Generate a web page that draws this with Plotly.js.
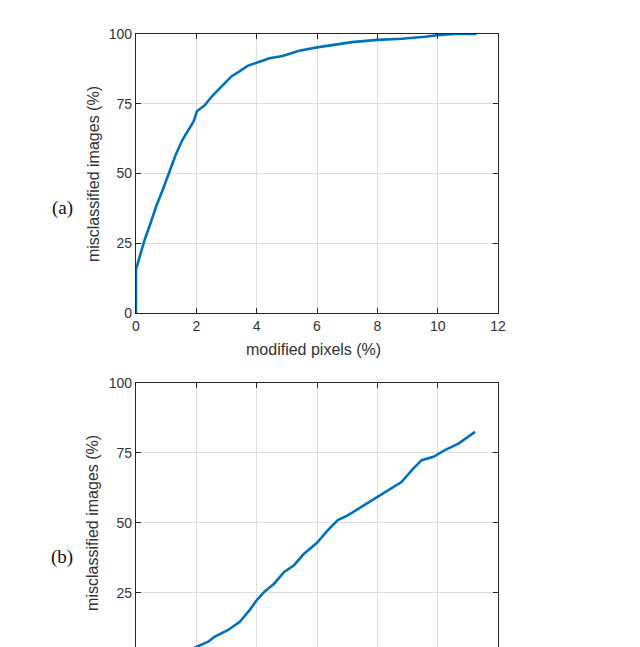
<!DOCTYPE html>
<html>
<head>
<meta charset="utf-8">
<script src="https://cdn.plot.ly/plotly-3.0.1.min.js"></script>
<style>
html,body{margin:0;padding:0;background:#fff;overflow:hidden;width:640px;height:647px;}
#chart{width:640px;height:720px;}
</style>
</head>
<body>
<div id="chart"></div>
<script>
// Panel (a): modified pixels (%) vs misclassified images (%)
const pixelsA = [0, 0, 0.13, 0.29, 0.45, 0.67, 0.89, 1.10, 1.32, 1.54, 1.81, 1.91, 2.02, 2.29, 2.51, 2.83, 3.16, 3.43, 3.70, 4.00, 4.42, 4.86, 5.41, 6.00, 6.50, 7.16, 8.00, 8.81, 9.58, 10.00, 10.57, 11.29];
const misclassA = [0, 15.7, 20.5, 26.4, 31.2, 38.3, 44.3, 50.2, 56.8, 62.1, 66.9, 68.7, 72.3, 74.6, 77.6, 81.2, 84.8, 86.6, 88.6, 89.7, 91.3, 92.1, 94.0, 95.2, 96.1, 97.1, 97.9, 98.3, 99.0, 99.6, 100, 100];

// Panel (b)
const pixelsB = [0.6, 1.0, 1.5, 2.0, 2.38, 2.60, 3.04, 3.43, 3.76, 4.00, 4.25, 4.58, 4.91, 5.24, 5.57, 6.00, 6.36, 6.69, 7.02, 7.47, 8.00, 8.36, 8.80, 9.19, 9.47, 9.86, 10.24, 10.69, 11.24];
const misclassB = [0, 1.5, 3.5, 5.7, 7.5, 9.3, 11.7, 14.6, 18.8, 22.4, 25.4, 28.3, 32.5, 34.9, 39.0, 42.9, 47.4, 51.0, 52.7, 55.7, 59.3, 61.7, 64.6, 69.4, 72.4, 73.6, 76.0, 78.3, 82.5];

const xTicks = [0, 2, 4, 6, 8, 10, 12];
const yTicks = [0, 25, 50, 75, 100];
const yTicksB = [25, 50, 75, 100];   // lower panel is cut off by the page edge
const xTitle = "modified pixels (%)";
const yTitle = "misclassified images (%)";
const panelLabels = ["(a)", "(b)"];

const lineStyle = {color: "#0072BD", width: 2.6};
const traces = [
  {x: pixelsA, y: misclassA, type: "scatter", mode: "lines", line: lineStyle, xaxis: "x", yaxis: "y", showlegend: false, hoverinfo: "none"},
  {x: pixelsB, y: misclassB, type: "scatter", mode: "lines", line: lineStyle, xaxis: "x2", yaxis: "y2", showlegend: false, hoverinfo: "none"}
];

const tickFont = {family: "Liberation Sans, Arial, sans-serif", size: 14, color: "#333"};
const axisBase = {
  showline: true, linecolor: "#262626", linewidth: 1.2, mirror: "ticks",
  ticks: "inside", ticklen: 5, tickcolor: "#262626", tickwidth: 1,
  showgrid: true, gridcolor: "#dedede", gridwidth: 1, zeroline: false,
  tickfont: tickFont, fixedrange: true
};
const xAx = Object.assign({}, axisBase, {range: [0, 12], tickvals: xTicks, ticktext: xTicks.map(String)});

const annFont = {family: "Liberation Sans, Arial, sans-serif", size: 16, color: "#333"};
const serifFont = {family: "Liberation Serif, Times New Roman, serif", size: 19, color: "#111"};
const layout = {
  width: 640, height: 720,
  margin: {l: 136, r: 142, t: 34, b: 57.3},
  paper_bgcolor: "#fff", plot_bgcolor: "#fff",
  xaxis: Object.assign({}, xAx, {domain: [0, 1], anchor: "y"}),
  yaxis: Object.assign({}, axisBase, {range: [0, 100], tickvals: yTicks, ticktext: yTicks.map(String), domain: [0.5562, 1], anchor: "x"}),
  xaxis2: Object.assign({}, xAx, {domain: [0, 1], anchor: "y2", showticklabels: false}),
  yaxis2: Object.assign({}, axisBase, {range: [0, 100], tickvals: yTicksB, ticktext: yTicksB.map(String), domain: [0, 0.4454], anchor: "x2"}),
  annotations: [
    {text: xTitle, xref: "paper", yref: "paper", x: 0.489, y: 0.499, showarrow: false, font: annFont, xanchor: "center", yanchor: "middle"},
    {text: yTitle, xref: "paper", yref: "paper", x: -0.1188, y: 0.7773, showarrow: false, font: annFont, textangle: -90, xanchor: "center", yanchor: "middle"},
    {text: yTitle, xref: "paper", yref: "paper", x: -0.1188, y: 0.2227, showarrow: false, font: annFont, textangle: -90, xanchor: "center", yanchor: "middle"},
    {text: panelLabels[0], xref: "paper", yref: "paper", x: -0.2044, y: 0.7232, showarrow: false, font: serifFont, xanchor: "center", yanchor: "middle"},
    {text: panelLabels[1], xref: "paper", yref: "paper", x: -0.2044, y: 0.168, showarrow: false, font: serifFont, xanchor: "center", yanchor: "middle"}
  ]
};

Plotly.newPlot("chart", traces, layout, {displayModeBar: false, staticPlot: true});
</script>
</body>
</html>
